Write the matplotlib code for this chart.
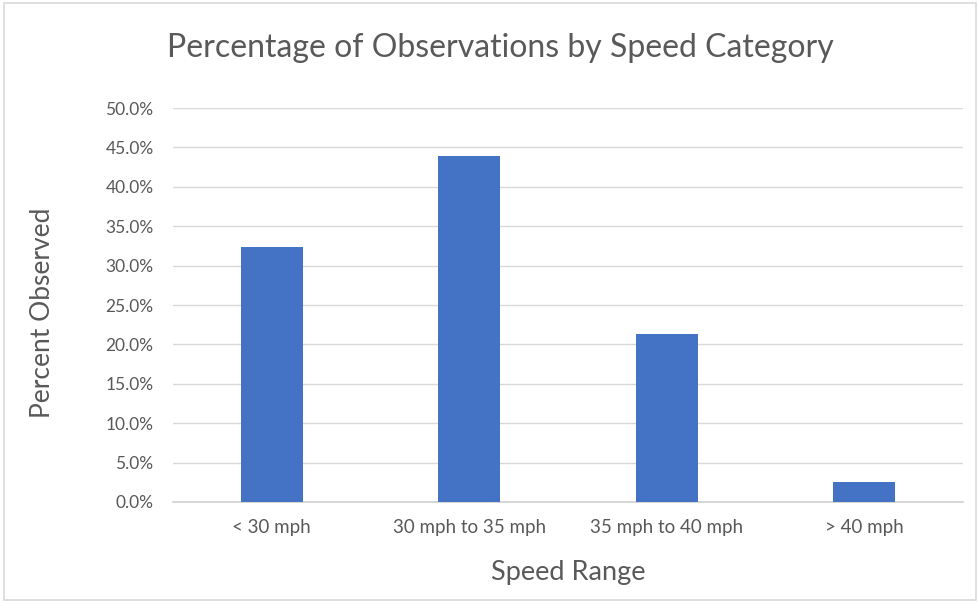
import matplotlib.pyplot as plt
from matplotlib.patches import Rectangle
from matplotlib.ticker import FuncFormatter

categories = ['< 30 mph', '30 mph to 35 mph', '35 mph to 40 mph', '> 40 mph']
percent_observed = [32.3, 43.9, 21.3, 2.5]
y_ticks = [0, 5, 10, 15, 20, 25, 30, 35, 40, 45, 50]

plt.rcParams['font.family'] = ['Lato', 'DejaVu Sans']

fig = plt.figure(figsize=(9.79, 6.02), dpi=100)
ax = fig.add_axes([173 / 979, 1 - 502 / 602, 790 / 979, 394 / 602])

# chart border
fig.patches.append(Rectangle((4 / 979, 2 / 602), 972 / 979, 597 / 602,
                             transform=fig.transFigure, fill=False,
                             edgecolor='#d9d9d9', linewidth=1.2))

x = range(len(categories))
ax.bar(x, percent_observed, width=0.315, color='#4472C4', zorder=3)

ax.set_xlim(-0.5, len(categories) - 0.5)
ax.set_ylim(0, 50)
ax.set_yticks(y_ticks)
ax.yaxis.set_major_formatter(FuncFormatter(lambda v, p: f'{v:.1f}%'))
ax.set_xticks(list(x))
ax.set_xticklabels(categories)

ax.grid(axis='y', color='#d9d9d9', linewidth=1, zorder=0)
for s in ['top', 'right', 'left']:
    ax.spines[s].set_visible(False)
ax.spines['bottom'].set_color('#d0d0d0')
ax.spines['bottom'].set_linewidth(1.2)
ax.tick_params(axis='y', length=0, labelsize=12.5, labelcolor='#595959', pad=14)
ax.tick_params(axis='x', length=0, labelsize=13.5, labelcolor='#595959', pad=12)

ax.set_xlabel('Speed Range', fontsize=19.5, color='#595959')
ax.xaxis.set_label_coords(0.5, -0.148)
ax.set_ylabel('Percent Observed', fontsize=19, color='#595959')
ax.yaxis.set_label_coords(-0.150, 0.48)
fig.text(500 / 979, 1 - 48 / 602, 'Percentage of Observations by Speed Category',
         ha='center', va='center', fontsize=23, color='#595959')

fig.savefig('out.png', dpi=100)
